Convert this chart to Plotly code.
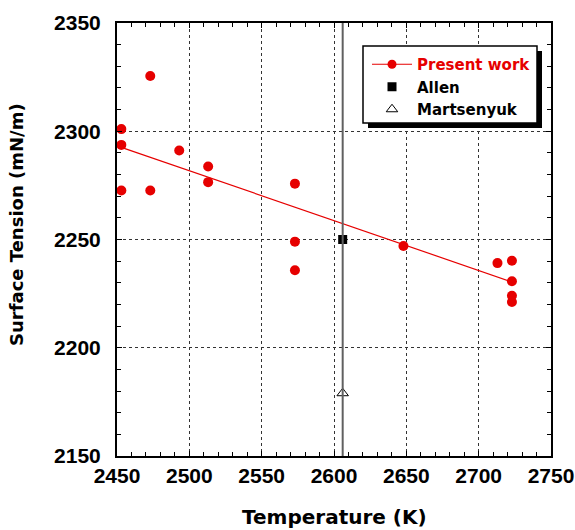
import plotly.graph_objects as go

# Data
present_T = [2453, 2453, 2453, 2473, 2473, 2493, 2513, 2513, 2573, 2573, 2573,
             2648, 2713, 2723, 2723, 2723, 2723]
present_ST = [2301.0, 2293.7, 2272.6, 2325.5, 2272.6, 2291.1, 2283.7, 2276.5,
              2275.8, 2249.0, 2235.8, 2247.0, 2239.1, 2240.2, 2230.7, 2224.0, 2221.1]
fit_T = [2452, 2723]
fit_ST = [2292.8, 2230.4]
allen_T = [2606]
allen_ST = [2250]
mart_T = [2606]
mart_ST = [2179]
melt_T = 2606

RED = "#E60000"
L, R, T, B = 117, 24, 23, 74
W, H = 575, 530
PW, PH = W - L - R, H - T - B


def px(x):
    return (x - L) / PW


def py(y):
    return (H - B - y) / PH


fig = go.Figure()
fig.add_trace(go.Scatter(x=fit_T, y=fit_ST, mode="lines",
                         line=dict(color=RED, width=1.2), showlegend=False, hoverinfo="skip"))
fig.add_trace(go.Scatter(x=present_T, y=present_ST, mode="markers",
                         marker=dict(color=RED, size=10, symbol="circle"), showlegend=False))
fig.add_trace(go.Scatter(x=[None], y=[None], mode="lines+markers",
                         name="<span style='color:#E60000'>Present work</span>",
                         line=dict(color=RED, width=1.2), marker=dict(color=RED, size=9)))
fig.add_trace(go.Scatter(x=allen_T, y=allen_ST, mode="markers", name="Allen",
                         marker=dict(color="black", size=9, symbol="square")))
fig.add_trace(go.Scatter(x=mart_T, y=mart_ST, mode="markers", name="Martsenyuk",
                         marker=dict(color="white", size=10, symbol="triangle-up",
                                     line=dict(color="black", width=1))))

tickfont = dict(family="Liberation Sans", size=21, color="black", weight="bold")
axis_common = dict(
    showline=True, linecolor="black", linewidth=2, mirror="ticks", automargin=False,
    ticks="inside", ticklen=5, tickwidth=1, tickcolor="black",
    showgrid=True, gridcolor="#333", griddash="dot", gridwidth=1,
    zeroline=False, tickfont=tickfont,
    minor=dict(ticks="inside", ticklen=4, tickwidth=1, tickcolor="black", dtick=10, showgrid=False),
)
fig.update_xaxes(range=[2450, 2750], dtick=50, tick0=2450, ticklabelstandoff=0, **axis_common)
fig.update_yaxes(range=[2150, 2350], dtick=50, tick0=2150, ticklabelstandoff=10, **axis_common)

shapes = [
    dict(type="line", xref="x", yref="paper", x0=melt_T, x1=melt_T, y0=0, y1=1,
         line=dict(color="#606060", width=2), layer="above"),
    # legend shadow
    dict(type="rect", xref="paper", yref="paper", x0=px(368), x1=px(542), y0=py(128), y1=py(51),
         fillcolor="black", line=dict(width=0), layer="above"),
    # legend box
    dict(type="rect", xref="paper", yref="paper", x0=px(363), x1=px(537), y0=py(123), y1=py(46),
         fillcolor="white", line=dict(color="black", width=1.5), layer="above"),
]

annotations = [
    dict(text="Temperature (K)", xref="paper", yref="paper", x=0.5, y=py(517),
         xanchor="center", yanchor="middle", showarrow=False,
         font=dict(family="DejaVu Sans", size=20, color="black", weight="bold")),
    dict(text="Surface Tension (mN/m)", xref="paper", yref="paper", x=px(16), y=py(225),
         xanchor="center", yanchor="middle", showarrow=False, textangle=-90,
         font=dict(family="DejaVu Sans", size=18, color="black", weight="bold")),
]

fig.update_layout(
    width=W, height=H,
    margin=dict(l=L, r=R, t=T, b=B, autoexpand=False),
    plot_bgcolor="white", paper_bgcolor="white",
    shapes=shapes, annotations=annotations,
    legend=dict(x=px(367), y=py(48), xanchor="left", yanchor="top",
                bgcolor="rgba(0,0,0,0)", borderwidth=0,
                font=dict(family="DejaVu Sans", size=15, color="black", weight="bold"),
                itemwidth=40, tracegroupgap=0),
)

fig.write_html("out.html")
